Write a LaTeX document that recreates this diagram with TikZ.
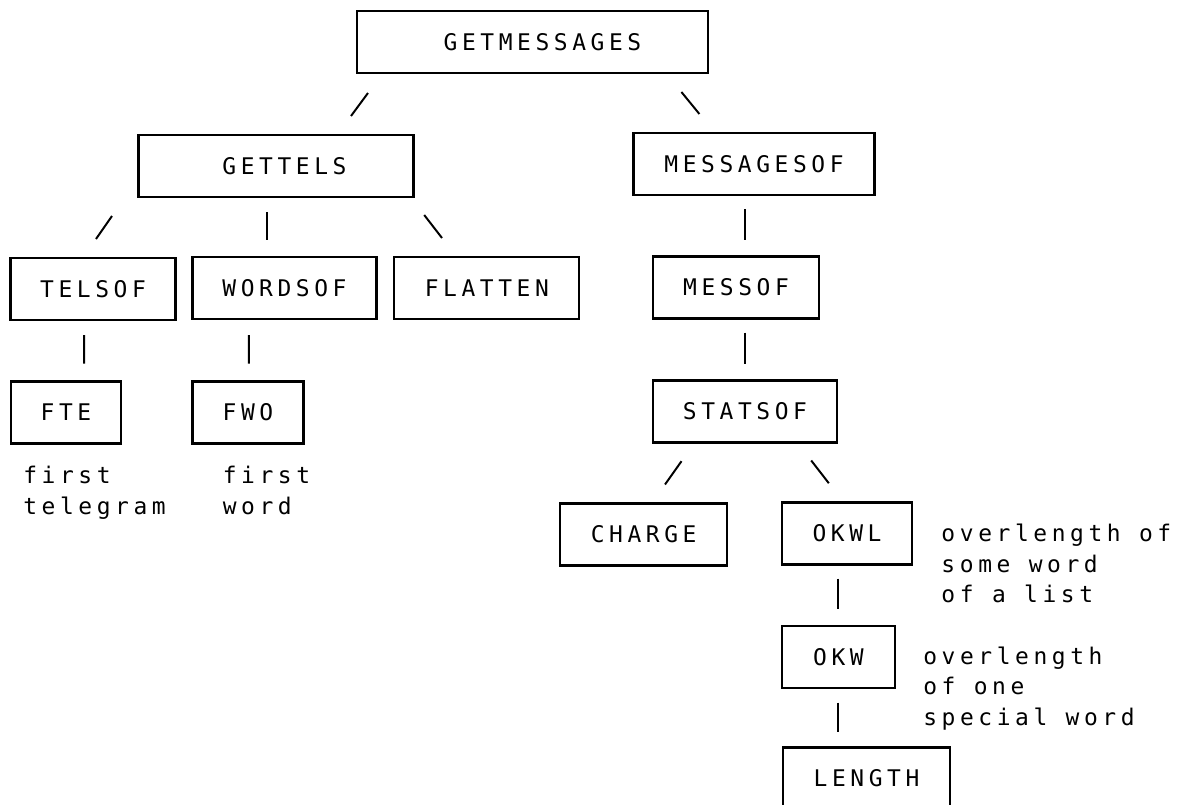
\documentclass[tikz,border=0pt]{standalone}
\usepackage{fontspec}
\newfontfamily\plotfont[LetterSpace=20]{DejaVu Sans Mono}
\usetikzlibrary{calc}

\begin{document}
\begin{tikzpicture}[
  x=0.25mm, y=-0.25mm,
  box/.style={draw, line width=1.5pt, inner sep=0pt, outer sep=0pt,
              minimum height=15.5mm, text height=4.2mm, text depth=0pt,
              font=\plotfont\fontsize{16.3pt}{21.7pt}\selectfont},
  note/.style={anchor=north west, inner sep=0pt, align=left,
               font=\plotfont\fontsize{16.3pt}{21.7pt}\selectfont},
  link/.style={line width=1.4pt}
]
  \useasboundingbox (0,0) rectangle (1182,805);
  \clip (0,0) rectangle (1182,805);

  % top
  \node[box, minimum width=87.75mm] (getmessages) at (532.5,42) {\hspace*{5mm}GETMESSAGES};
  \node[box, minimum width=68.75mm] (gettels)     at (276,166)  {\hspace*{4.25mm}GETTELS};
  \node[box, minimum width=60.25mm] (messagesof)  at (754,164)  {MESSAGESOF};

  % third row
  \node[box, minimum width=41.25mm] (telsof)  at (93,289)    {TELSOF};
  \node[box, minimum width=46mm]    (wordsof) at (284.5,288) {WORDSOF};
  \node[box, minimum width=46.25mm] (flatten) at (486.8,288) {FLATTEN};
  \node[box, minimum width=41.6mm]  (messof)  at (736,287.5) {MESSOF};

  \node[box, minimum width=27.5mm]  (fte)     at (66,412.5)  {FTE};
  \node[box, minimum width=27.75mm] (fwo)     at (248,412.5) {FWO};
  \node[box, minimum width=46.1mm]  (statsof) at (745,411.5) {STATSOF};

  \node[box, minimum width=41.75mm] (charge)  at (643.6,534.5) {CHARGE};
  \node[box, minimum width=32.6mm]  (okwl)    at (847,533.5)   {OKWL};
  \node[box, minimum width=28.25mm] (okw)     at (838.5,657)   {OKW};
  \node[box, minimum width=41.75mm] (length)  at (866.5,778.5) {LENGTH};

  % comments beside the boxes
  \node[note] (fteNote)  at ($(fte.south west)+(12,22.6)$)   {first\\telegram};
  \node[note] (fwoNote)  at ($(fwo.south west)+(30,22.6)$)   {first\\word};
  \node[note] (okwlNote) at ($(okwl.north east)+(29,21.3)$)  {overlength of\\some word\\of a list};
  \node[note] (okwNote)  at ($(okw.north east)+(28,20.6)$)   {overlength\\of one\\special word};

  % strokes
  \draw[link] ($(getmessages.south west)+(11,20)$)    -- ($(gettels.north)+(75,-19)$);
  \draw[link] ($(getmessages.south east)+(-26.6,19)$) -- ($(messagesof.north)+(-54.6,-19)$);
  \draw[link] ($(gettels.south west)+(-26.5,19)$)     -- ($(telsof.north)+(3,-19)$);
  \draw[link] ($(gettels.south)+(-9.3,15)$)           -- ($(wordsof.north)+(-17.8,-17)$);
  \draw[link] ($(gettels.south east)+(10.7,18)$)      -- ($(flatten.north)+(-44.8,-19)$);
  \draw[link] ($(messagesof.south)+(-9,14)$)          -- ($(messof.north)+(9,-17)$);
  \draw[link] ($(telsof.south)+(-8.8,15)$)            -- ($(fte.north)+(18.2,-18)$);
  \draw[link] ($(wordsof.south)+(-35.7,16)$)          -- ($(fwo.north)+(0.8,-18)$);
  \draw[link] ($(messof.south)+(9,14)$)               -- ($(statsof.north)+(0,-17)$);
  \draw[link] ($(statsof.south west)+(28.7,18.7)$)    -- ($(charge.north)+(21.4,-19)$);
  \draw[link] ($(statsof.south east)+(-26,18)$)       -- ($(okwl.north)+(-18.2,-19.3)$);
  \draw[link] ($(okwl.south)+(-9,14)$)                -- ($(okw.north)+(-0.5,-17)$);
  \draw[link] ($(okw.south)+(-0.5,14.7)$)             -- ($(length.north)+(-28.5,-15.5)$);
\end{tikzpicture}
\end{document}
